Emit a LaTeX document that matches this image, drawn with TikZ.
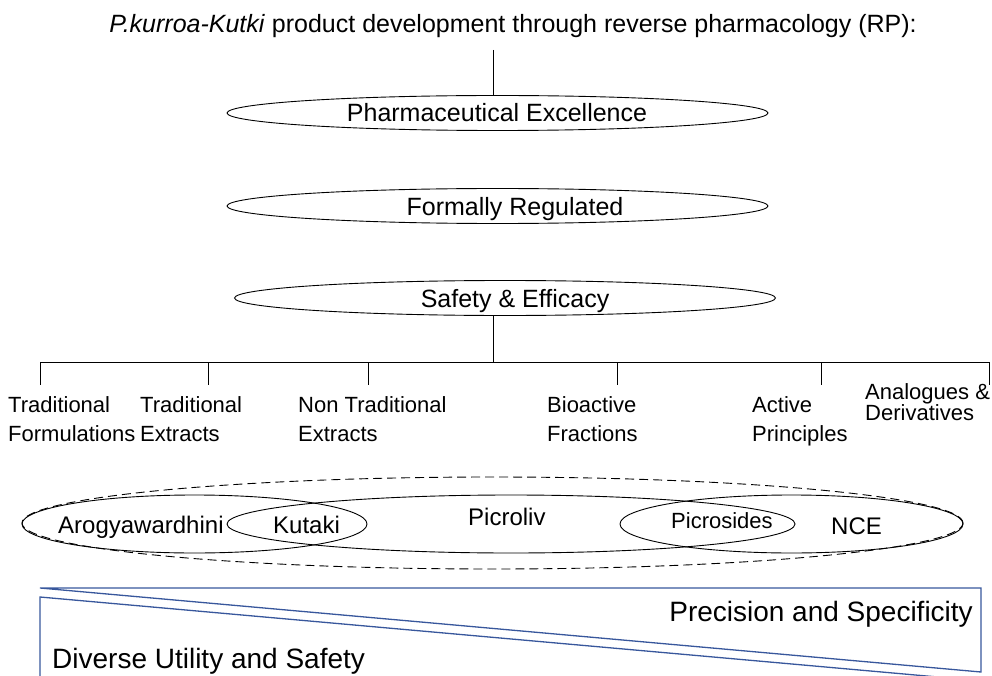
\documentclass[tikz,border=0pt]{standalone}
\usepackage{fontspec}
\setmainfont{Liberation Sans}
\usetikzlibrary{shapes.geometric}
\definecolor{wedgeblue}{RGB}{56,87,156}
\begin{document}
\begin{tikzpicture}[x=1pt,y=-1pt,
  oval/.style={draw=black, line width=0.9pt, ellipse, inner sep=0pt, outer sep=0pt},
  tier/.style={oval, minimum width=541pt, minimum height=35pt},
  rule/.style={draw=black, line width=0.9pt},
  big/.style={inner sep=0pt, font=\fontsize{25pt}{30pt}\selectfont},
  mid/.style={inner sep=0pt, font=\fontsize{24pt}{29pt}\selectfont},
  cat/.style={anchor=base west, inner sep=0pt, font=\fontsize{22pt}{29pt}\selectfont},
  wedge/.style={draw=wedgeblue, line width=1.3pt, line join=miter},
  huge/.style={inner sep=0pt, font=\fontsize{28pt}{33pt}\selectfont}
]
\useasboundingbox (0,0) rectangle (992,676);

% heading
\node[big, anchor=base] (title) at (513,33)
  {\textit{P.kurroa-Kutki} product development through reverse pharmacology (RP):};

% the three tiers
\node[tier] (e1) at (497.5,113) {};
\node[tier] (e2) at (497.5,206) {};
\node[tier] (e3) at (505,298) {};
\node[big, anchor=base] (t1) at (497,122) {Pharmaceutical Excellence};
\node[big, anchor=base] (t2) at (515,215) {Formally Regulated};
\node[big, anchor=base] (t3) at (515,307) {Safety \& Efficacy};

\coordinate (stem) at (493,50);
\draw[rule] (stem) -- (stem |- e1.north);

% branching bar
\coordinate (hub) at (493,362);
\draw[rule] (hub |- e3.south) -- (hub);
\coordinate (b1) at (40,362);
\coordinate (b2) at (208,362);
\coordinate (b3) at (368,362);
\coordinate (b4) at (617,362);
\coordinate (b5) at (821,362);
\coordinate (b6) at (989,362);
\draw[rule] (b1) -- (b6);
\foreach \b in {b1,b2,b3,b4,b5,b6} \draw[rule] (\b) -- ++(0,23);

% categories
\newcommand\twolines[3]{\vtop{\baselineskip=#1\lineskiplimit=-10pt\hbox{#2}\hbox{#3}}}
\node[cat] (c1) at (8,412)   {\twolines{29pt}{Traditional}{Formulations}};
\node[cat] (c2) at (140,412) {\twolines{29pt}{Traditional}{Extracts}};
\node[cat] (c3) at (298,412) {\twolines{29pt}{Non Traditional}{Extracts}};
\node[cat] (c4) at (547,412) {\twolines{29pt}{Bioactive}{Fractions}};
\node[cat] (c5) at (752,412) {\twolines{29pt}{Active}{Principles}};
\node[cat] (c6) at (865,399) {\twolines{21pt}{Analogues \&}{Derivatives}};

% overlapping products
\node[oval, dashed, dash pattern=on 9pt off 5pt, minimum width=941pt, minimum height=92pt] (outer) at (492.5,523) {};
\node[oval, minimum width=345pt, minimum height=58pt] (aro) at (194.5,524) {};
\node[oval, minimum width=568pt, minimum height=58pt] (pic) at (511,524) {};
\node[oval, minimum width=343pt, minimum height=58pt] (nce) at (791.5,524) {};
\node[mid, anchor=base west] (l1) at (58,533) {Arogyawardhini};
\node[mid, anchor=base west] (l2) at (273,533) {Kutaki};
\node[mid, anchor=base west] (l3) at (468,525) {Picroliv};
\node[inner sep=0pt, font=\fontsize{22pt}{26pt}\selectfont, anchor=base west] (l4) at (671,528) {Picrosides};
\node[mid, anchor=base west] (l5) at (831,534) {NCE};

% opposing wedges
\draw[wedge] (40,588) -- (981,588) -- (981,672) -- cycle;
\draw[wedge] (40,700) -- (40,597) -- (1050,687);
\node[huge, anchor=base east] (p1) at (973,621) {Precision and Specificity};
\node[huge, anchor=base west] (p2) at (52,668) {Diverse Utility and Safety};
\end{tikzpicture}
\end{document}
